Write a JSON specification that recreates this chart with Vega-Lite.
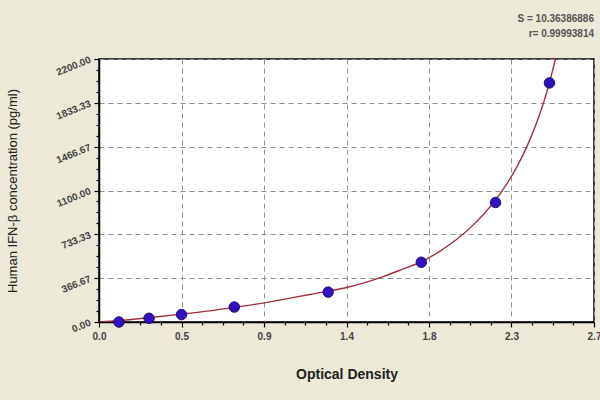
{
  "$schema": "https://vega.github.io/schema/vega-lite/v6.json",
  "width": 495,
  "height": 263,
  "autosize": {"type": "none"},
  "padding": {"left": 99, "top": 59, "right": 6, "bottom": 78},
  "background": "#ece9d8",
  "config": {
    "view": {"fill": "white", "stroke": "black", "strokeWidth": 1.5},
    "font": "Liberation Sans"
  },
  "title": {
    "text": "S = 10.36386886",
    "subtitle": "r= 0.99993814",
    "anchor": "end",
    "frame": "group",
    "font": "Liberation Sans",
    "subtitleFont": "Liberation Sans",
    "fontSize": 10,
    "subtitleFontSize": 10,
    "fontWeight": "bold",
    "subtitleFontWeight": "bold",
    "color": "#555555",
    "subtitleColor": "#555555",
    "offset": 15,
    "subtitlePadding": 5
  },
  "datasets": {
    "points": [
      {"od": 0.109, "conc": 0},
      {"od": 0.273, "conc": 31.25},
      {"od": 0.45, "conc": 62.5},
      {"od": 0.738, "conc": 125},
      {"od": 1.25, "conc": 250},
      {"od": 1.758, "conc": 500},
      {"od": 2.163, "conc": 1000},
      {"od": 2.457, "conc": 2000}
    ],
    "curve": [
      {"od": 0.0, "conc": 0},
      {"od": 0.11, "conc": 12},
      {"od": 0.27, "conc": 36},
      {"od": 0.45, "conc": 66},
      {"od": 0.6, "conc": 93},
      {"od": 0.74, "conc": 123},
      {"od": 0.9, "conc": 160},
      {"od": 1.05, "conc": 202},
      {"od": 1.15, "conc": 230},
      {"od": 1.25, "conc": 258},
      {"od": 1.35, "conc": 289},
      {"od": 1.45, "conc": 330},
      {"od": 1.55, "conc": 380},
      {"od": 1.65, "conc": 438},
      {"od": 1.76, "conc": 505},
      {"od": 1.85, "conc": 583},
      {"od": 1.95, "conc": 690},
      {"od": 2.05, "conc": 825},
      {"od": 2.1, "conc": 905},
      {"od": 2.16, "conc": 1015},
      {"od": 2.22, "conc": 1145},
      {"od": 2.28, "conc": 1300},
      {"od": 2.34, "conc": 1488},
      {"od": 2.4, "conc": 1721},
      {"od": 2.45, "conc": 1962},
      {"od": 2.5, "conc": 2264}
    ]
  },
  "encoding": {
    "x": {
      "field": "od",
      "type": "quantitative",
      "scale": {"domain": [0, 2.7], "nice": false, "zero": false},
      "axis": {
        "title": "Optical Density",
        "titleFont": "Liberation Sans",
        "titleFontSize": 14,
        "titleFontWeight": "bold",
        "titleColor": "#222222",
        "titleY": 52,
        "titleBaseline": "middle",
        "values": [0, 0.1125, 0.225, 0.3375, 0.45, 0.5625, 0.675, 0.7875, 0.9, 1.0125, 1.125, 1.2375, 1.35, 1.4625, 1.575, 1.6875, 1.8, 1.9125, 2.025, 2.1375, 2.25, 2.3625, 2.475, 2.5875, 2.7],
        "labelExpr": "abs(datum.value/0.45 - round(datum.value/0.45)) < 0.001 ? format(datum.value, '.1f') : ''",
        "labelOverlap": false,
        "labelFlush": false,
        "labelFont": "Liberation Sans",
        "labelFontSize": 10,
        "labelFontWeight": "bold",
        "labelColor": "#444444",
        "labelPadding": 4,
        "domainColor": "black",
        "domainWidth": 1.5,
        "tickColor": "black",
        "tickWidth": 1.2,
        "tickSize": {"condition": {"test": "abs(datum.value/0.45 - round(datum.value/0.45)) < 0.001", "value": 5}, "value": 3},
        "grid": true,
        "gridColor": "#909090",
        "gridDash": [5, 4],
        "gridWidth": 1,
        "gridOpacity": {"condition": {"test": "abs(datum.value/0.45 - round(datum.value/0.45)) < 0.001", "value": 1}, "value": 0}
      }
    },
    "y": {
      "field": "conc",
      "type": "quantitative",
      "scale": {"domain": [0, 2200], "nice": false},
      "axis": {
        "title": "Human IFN-β concentration (pg/ml)",
        "titleFont": "Liberation Sans",
        "titleFontSize": 13,
        "titleFontWeight": "normal",
        "titleColor": "#222222",
        "titleX": -87,
        "titleY": 131.5,
        "titleAlign": "center",
        "titleBaseline": "middle",
        "titleAngle": -90,
        "values": [0, 91.6667, 183.3333, 275, 366.6667, 458.3333, 550, 641.6667, 733.3333, 825, 916.6667, 1008.3333, 1100, 1191.6667, 1283.3333, 1375, 1466.6667, 1558.3333, 1650, 1741.6667, 1833.3333, 1925, 2016.6667, 2108.3333, 2200],
        "labelExpr": "abs(datum.value/(2200/6) - round(datum.value/(2200/6))) < 0.001 ? format(datum.value, '.2f') : ''",
        "labelOverlap": false,
        "labelFlush": false,
        "labelAngle": -22,
        "labelAlign": "right",
        "labelBaseline": "middle",
        "labelFont": "Liberation Sans",
        "labelFontSize": 10,
        "labelFontWeight": "bold",
        "labelColor": "#444444",
        "labelPadding": 4,
        "domainColor": "black",
        "domainWidth": 1.5,
        "tickColor": "black",
        "tickWidth": 1.2,
        "tickSize": {"condition": {"test": "abs(datum.value/(2200/6) - round(datum.value/(2200/6))) < 0.001", "value": 5}, "value": 3},
        "grid": true,
        "gridColor": "#909090",
        "gridDash": [5, 4],
        "gridWidth": 1,
        "gridOpacity": {"condition": {"test": "abs(datum.value/(2200/6) - round(datum.value/(2200/6))) < 0.001", "value": 1}, "value": 0}
      }
    }
  },
  "layer": [
    {
      "data": {"name": "curve"},
      "mark": {"type": "line", "color": "#9e2f3c", "strokeWidth": 1.4, "clip": true, "interpolate": "monotone"}
    },
    {
      "data": {"name": "points"},
      "mark": {"type": "point", "filled": true, "shape": "circle", "size": 110, "color": "#3010c0", "opacity": 1, "stroke": "#22106e", "strokeWidth": 1}
    }
  ]
}
